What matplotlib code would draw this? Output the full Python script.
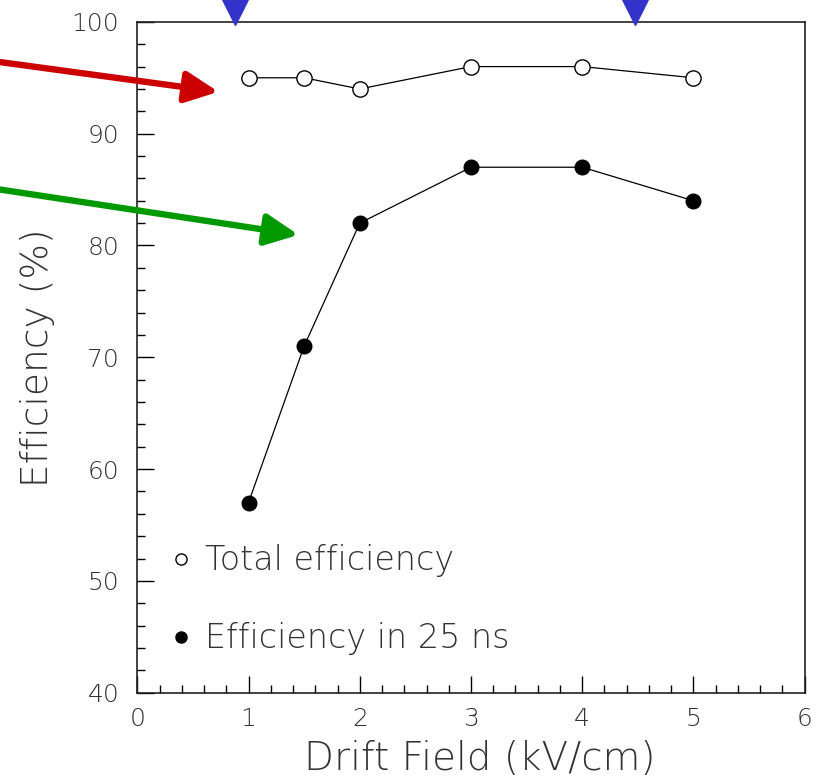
import matplotlib
matplotlib.use("Agg")
import matplotlib.pyplot as plt
from matplotlib.ticker import MultipleLocator

plt.rcParams['font.family'] = ['DejaVu Sans']
plt.rcParams['font.weight'] = 200
plt.rcParams['axes.labelweight'] = 200

# data
field = [1, 1.5, 2, 3, 4, 5]
total_eff = [95, 95, 94, 96, 96, 95]
eff_25ns = [57, 71, 82, 87, 87, 84]

# blue markers on top edge (x in kV/cm)
marker_x = [0.88, 4.47]

# annotation arrows: (tail, head) in data units
red_arrow = ((-1.23, 96.4), (0.73, 93.75))
green_arrow = ((-1.23, 85.0), (1.45, 80.95))

fig = plt.figure(figsize=(8.17, 7.81), dpi=100)
ax = fig.add_axes([0.168, 0.113, 0.817, 0.859])

ax.plot(field, total_eff, color='black', lw=0.9, marker='o', ms=11,
        mfc='white', mec='black', mew=1.0)
ax.plot(field, eff_25ns, color='black', lw=0.9, marker='o', ms=10.5,
        mfc='black', mec='black')

ax.set_xlim(0, 6)
ax.set_ylim(40, 100)
ax.xaxis.set_major_locator(MultipleLocator(1))
ax.xaxis.set_minor_locator(MultipleLocator(0.2))
ax.yaxis.set_major_locator(MultipleLocator(10))
ax.yaxis.set_minor_locator(MultipleLocator(2))
ax.tick_params(which='both', direction='in', top=False, right=False,
               labelsize=18, colors='black', width=1.0)
ax.tick_params(axis='x', which='both', pad=10)
ax.tick_params(axis='y', which='both', pad=13)
ax.tick_params(which='major', length=12)
ax.tick_params(which='minor', length=6)
for s in ax.spines.values():
    s.set_linewidth(1.2)
    s.set_color('#222222')
for lab in ax.get_xticklabels() + ax.get_yticklabels():
    lab.set_color('#333333')

ax.set_xlabel('Drift Field (kV/cm)', fontsize=28, color='#333333', labelpad=7)
ax.set_ylabel('Efficiency (%)', fontsize=27, color='#333333', labelpad=12)
ax.xaxis.label.set_x(0.513)

# legend drawn by hand
ax.plot([0.395], [51.95], marker='o', ms=8, mfc='white', mec='black', mew=1.0,
        clip_on=False)
ax.plot([0.395], [45.0], marker='o', ms=8, mfc='black', mec='black',
        clip_on=False)
ax.text(0.61, 51.8, 'Total efficiency', fontsize=24, va='center',
        color='#333333')
ax.text(0.61, 44.85, 'Efficiency in 25 ns', fontsize=24, va='center',
        color='#333333')

# blue triangles on top edge
for mx in marker_x:
    ax.plot([mx], [101.1], marker='v', ms=21, color='#3333cc',
            clip_on=False, zorder=5)

# arrows pointing at the curves, coming in from the left
for (tail, head), col in [(red_arrow, '#cc0000'), (green_arrow, '#009900')]:
    ax.annotate('', xy=head, xytext=tail, xycoords='data',
                annotation_clip=False,
                arrowprops=dict(arrowstyle='-|>,head_length=2.0,head_width=0.95',
                                color=col, lw=4.6, shrinkA=0, shrinkB=0))

fig.savefig('out.png', dpi=100)
